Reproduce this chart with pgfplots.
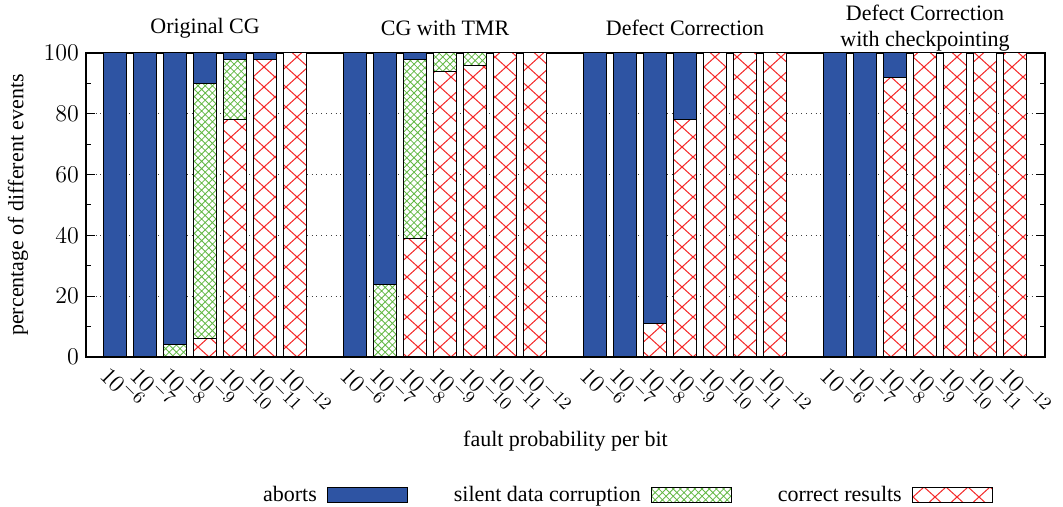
\documentclass[border=0pt]{standalone}
\usepackage{fontspec}
\setmainfont{Liberation Serif}
\usepackage{pgfplots}
\usepackage{pgfplotstable}
\pgfplotsset{compat=1.18}
\usetikzlibrary{patterns}
\definecolor{cblue}{RGB}{46,84,163}
\definecolor{cgreen}{RGB}{100,185,70}
\definecolor{cred}{RGB}{245,40,40}
\pgfdeclarepatternformonly{redx}{\pgfpoint{-0.5pt}{-0.5pt}}{\pgfpoint{11.5pt}{10.5pt}}{\pgfpoint{11pt}{10pt}}{%
  \pgfsetlinewidth{0.5pt}%
  \pgfpathmoveto{\pgfpoint{-0.3pt}{-0.27pt}}\pgfpathlineto{\pgfpoint{11.3pt}{10.27pt}}%
  \pgfpathmoveto{\pgfpoint{-0.3pt}{10.27pt}}\pgfpathlineto{\pgfpoint{11.3pt}{-0.27pt}}%
  \pgfusepath{stroke}}
\pgfdeclarepatternformonly{greenx}{\pgfpoint{-0.5pt}{-0.5pt}}{\pgfpoint{4.1pt}{4.1pt}}{\pgfpoint{3.6pt}{3.6pt}}{%
  \pgfsetlinewidth{0.4pt}%
  \pgfpathmoveto{\pgfpoint{-0.2pt}{-0.2pt}}\pgfpathlineto{\pgfpoint{3.8pt}{3.8pt}}%
  \pgfpathmoveto{\pgfpoint{-0.2pt}{3.8pt}}\pgfpathlineto{\pgfpoint{3.8pt}{-0.2pt}}%
  \pgfusepath{stroke}}
\pgfplotstableread{
x correct sdc aborts
0 0 0 100
1 0 0 100
2 0 4 96
3 6 84 10
4 78 20 2
5 98 0 2
6 100 0 0
8 0 0 100
9 0 24 76
10 39 59 2
11 94 6 0
12 96 4 0
13 100 0 0
14 100 0 0
16 0 0 100
17 0 0 100
18 11 0 89
19 78 0 22
20 100 0 0
21 100 0 0
22 100 0 0
24 0 0 100
25 0 0 100
26 92 0 8
27 100 0 0
28 100 0 0
29 100 0 0
30 100 0 0
}\data
\begin{document}
\begin{tikzpicture}
\useasboundingbox (-43pt,-75pt) rectangle (488.5pt,178.5pt);
\begin{axis}[
  at={(0,0)}, anchor=south west,
  scale only axis, width=479.5pt, height=152pt,
  xmin=-0.97, xmax=31, ymin=0, ymax=100,
  ybar stacked, bar width=0.75,
  xtick={0,...,6,8,9,...,14,16,17,...,22,24,25,...,30},
  xticklabels={$10^{-6}$,$10^{-7}$,$10^{-8}$,$10^{-9}$,$10^{-10}$,$10^{-11}$,$10^{-12}$,
               $10^{-6}$,$10^{-7}$,$10^{-8}$,$10^{-9}$,$10^{-10}$,$10^{-11}$,$10^{-12}$,
               $10^{-6}$,$10^{-7}$,$10^{-8}$,$10^{-9}$,$10^{-10}$,$10^{-11}$,$10^{-12}$,
               $10^{-6}$,$10^{-7}$,$10^{-8}$,$10^{-9}$,$10^{-10}$,$10^{-11}$,$10^{-12}$},
  xtick style={draw=none},
  ytick={0,20,...,100}, minor ytick={10,30,...,90},
  tick align=inside,
  major tick length=4.5pt, minor tick length=2.5pt,
  ymajorgrids, grid style={dotted, black!75, line width=0.5pt},
  axis line style={line width=0.75pt},
  tick style={black, line width=0.5pt},
  tick label style={font=\fontsize{12.5}{14}\selectfont},
  xticklabel style={rotate=-45, anchor=west, xshift=-2pt, yshift=-8pt},
  label style={font=\fontsize{11}{13}\selectfont},
  ylabel={percentage of different events},
  ylabel style={at={(axis description cs:-0.071,0.5)}, anchor=center},
  xlabel={fault probability per bit},
  xlabel style={at={(axis description cs:0.5,-0.276)}, anchor=center},
  clip=false,
  legend columns=3, legend plot pos=right, reverse legend,
  legend style={at={(axis description cs:0.563,-0.454)}, anchor=center, draw=none, fill=none,
    font=\fontsize{11}{13}\selectfont,
    /tikz/every odd column/.append style={column sep=3pt},
    /tikz/every even column/.append style={column sep=21pt}},
  every axis plot post/.append style={legend image code/.code={\draw[##1] (0pt,-3.75pt) rectangle (40pt,3.75pt);}},
]
\addplot[fill=white, draw=black, line width=0.5pt, postaction={pattern=redx, pattern color=cred}] table[x=x,y=correct]{\data};
\addlegendentry{correct results}
\addplot[fill=white, draw=black, line width=0.5pt, postaction={pattern=greenx, pattern color=cgreen}] table[x=x,y=sdc]{\data};
\addlegendentry{silent data corruption}
\addplot[fill=cblue, draw=black, line width=0.5pt] table[x=x,y=aborts]{\data};
\addlegendentry{aborts}
\node[font=\fontsize{11}{13}\selectfont, yshift=12.5pt] at (axis cs:3,100) {Original CG};
\node[font=\fontsize{11}{13}\selectfont, yshift=12.5pt] at (axis cs:11,100) {CG with TMR};
\node[font=\fontsize{11}{13}\selectfont, yshift=12.5pt] at (axis cs:19,100) {Defect Correction};
\node[font=\fontsize{11}{13}\selectfont, yshift=12.5pt, align=center] at (axis cs:27,100) {Defect Correction\\with checkpointing};
\end{axis}
\end{tikzpicture}
\end{document}
